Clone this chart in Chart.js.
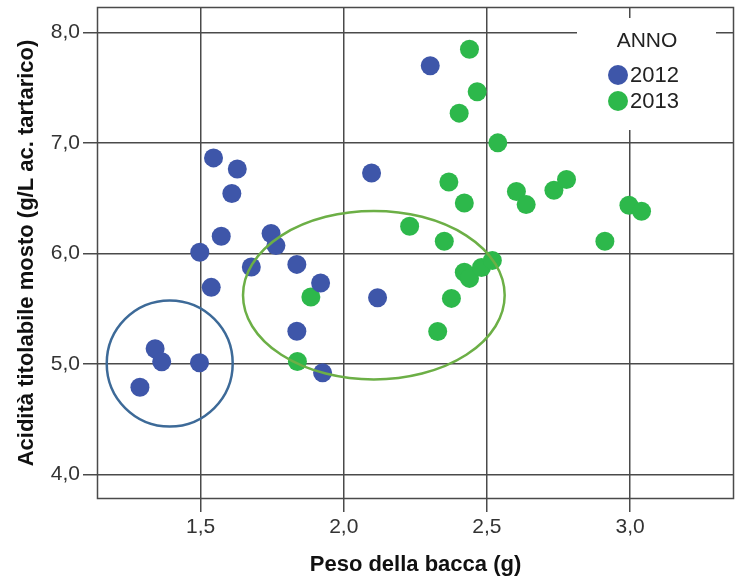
<!DOCTYPE html>
<html>
<head>
<meta charset="utf-8">
<script src="https://cdn.jsdelivr.net/npm/chart.js@4/dist/chart.umd.min.js"></script>
<style>
  html, body { margin: 0; padding: 0; background: #fff; }
  #wrap { width: 735px; height: 580px; }
</style>
</head>
<body>
<div id="wrap"><canvas id="c" width="735" height="580"></canvas></div>
<script>
// Anno di campionamento
const years = ['2012', '2013'];

// Peso della bacca (g) e acidità titolabile del mosto (g/L ac. tartarico)
const weight2012  = [1.545, 1.628, 1.609, 1.572, 1.746, 1.763, 1.497, 1.677, 1.836, 1.919,
                     1.537, 2.097, 2.118, 1.836, 1.926, 1.341, 1.364, 1.496, 1.288, 2.302];
const acidity2012 = [6.865, 6.765, 6.542, 6.155, 6.180, 6.071, 6.010, 5.877, 5.901, 5.732,
                     5.693, 6.729, 5.599, 5.296, 4.919, 5.137, 5.019, 5.010, 4.789, 7.699];

const weight2013  = [2.439, 2.466, 2.403, 2.538, 2.367, 2.421, 2.603, 2.637, 2.734, 2.778,
                     2.996, 3.040, 2.912, 2.230, 2.351, 2.421, 2.439, 2.481, 2.519, 2.376,
                     2.328, 1.885, 1.838];
const acidity2013 = [7.848, 7.463, 7.270, 7.001, 6.647, 6.457, 6.560, 6.442, 6.572, 6.669,
                     6.436, 6.382, 6.110, 6.246, 6.110, 5.829, 5.774, 5.873, 5.937, 5.593,
                     5.294, 5.605, 5.022];

// Tacche degli assi
const xTicks = [1.5, 2.0, 2.5, 3.0];
const yTicks = [4.0, 5.0, 6.0, 7.0, 8.0];

// Gruppi evidenziati (centro e semiassi in unità dei dati)
const blueGroup  = { cx: 1.392, cy: 5.004, rx: 0.220, ry: 0.571 };
const greenGroup = { cx: 2.105, cy: 5.622, rx: 0.457, ry: 0.763 };

const FONT = "'Liberation Sans', Arial, sans-serif";
const BLUE = '#3E56A9';
const GREEN = '#2DB84B';
const GRID = '#4a4a4a';

const toPoints = (xs, ys) => xs.map((x, i) => ({ x: x, y: ys[i] }));
const comma = v => Number(v).toFixed(1).replace('.', ',');

// Riquadro del grafico
const framePlugin = {
  id: 'frame',
  beforeDatasetsDraw(chart) {
    const { ctx, chartArea: a } = chart;
    ctx.save();
    ctx.strokeStyle = GRID;
    ctx.lineWidth = 1.5;
    ctx.strokeRect(a.left + 0.5, a.top + 0.5, a.right - a.left - 1, a.bottom - a.top - 1);
    ctx.restore();
  }
};

// Ellissi attorno ai gruppi
const groupsPlugin = {
  id: 'groups',
  afterDatasetsDraw(chart) {
    const { ctx, scales: { x, y } } = chart;
    const draw = (g, color) => {
      const cx = x.getPixelForValue(g.cx);
      const cy = y.getPixelForValue(g.cy);
      const rx = Math.abs(x.getPixelForValue(g.cx + g.rx) - cx);
      const ry = Math.abs(y.getPixelForValue(g.cy + g.ry) - cy);
      ctx.save();
      ctx.beginPath();
      ctx.ellipse(cx, cy, rx, ry, 0, 0, Math.PI * 2);
      ctx.strokeStyle = color;
      ctx.lineWidth = 2.5;
      ctx.stroke();
      ctx.restore();
    };
    draw(blueGroup, '#3D6A98');
    draw(greenGroup, '#6CAF46');
  }
};

// Legenda interna con titolo "ANNO"
const legendPlugin = {
  id: 'annoLegend',
  afterDraw(chart) {
    const { ctx } = chart;
    const colors = [BLUE, GREEN];
    ctx.save();
    ctx.fillStyle = '#fff';
    ctx.fillRect(577, 18, 139, 112);
    ctx.fillStyle = '#222';
    ctx.textAlign = 'center';
    ctx.textBaseline = 'middle';
    ctx.font = '21px ' + FONT;
    ctx.fillText('ANNO', 647, 41);
    ctx.font = '22px ' + FONT;
    ctx.textAlign = 'left';
    years.forEach((yr, i) => {
      const cy = 75 + i * 26;
      ctx.beginPath();
      ctx.arc(618, cy, 10, 0, Math.PI * 2);
      ctx.fillStyle = colors[i];
      ctx.fill();
      ctx.fillStyle = '#222';
      ctx.fillText(yr, 630, cy + 1);
    });
    ctx.restore();
  }
};

new Chart(document.getElementById('c'), {
  type: 'scatter',
  data: {
    datasets: [
      { label: years[0], data: toPoints(weight2012, acidity2012),
        backgroundColor: BLUE, borderWidth: 0, pointRadius: 9.5, pointHoverRadius: 9.5 },
      { label: years[1], data: toPoints(weight2013, acidity2013),
        backgroundColor: GREEN, borderWidth: 0, pointRadius: 9.5, pointHoverRadius: 9.5 }
    ]
  },
  options: {
    responsive: false,
    devicePixelRatio: 1,
    animation: false,
    layout: { autoPadding: false, padding: { top: 7, right: 1, left: 0, bottom: 0 } },
    plugins: {
      legend: { display: false },
      tooltip: { enabled: false }
    },
    scales: {
      x: {
        type: 'linear',
        min: 1.138,
        max: 3.363,
        afterBuildTicks: s => { s.ticks = xTicks.map(v => ({ value: v })); },
        afterFit: s => { s.height = 81; s.paddingLeft = 0; s.paddingRight = 0; },
        border: { display: false },
        grid: { color: GRID, lineWidth: 1.5, tickLength: 13, tickColor: GRID },
        ticks: {
          padding: 3,
          color: '#333',
          font: { family: FONT, size: 21 },
          callback: v => comma(v)
        },
        title: {
          display: true,
          text: 'Peso della bacca (g)',
          color: '#111',
          font: { family: FONT, size: 22, weight: 'bold' },
          padding: { top: 0, bottom: 2 }
        }
      },
      y: {
        type: 'linear',
        min: 3.777,
        max: 8.231,
        afterBuildTicks: s => { s.ticks = yTicks.map(v => ({ value: v })); },
        afterFit: s => { s.width = 97; s.paddingTop = 0; s.paddingBottom = 0; },
        border: { display: false },
        grid: { color: GRID, lineWidth: 1.5, tickLength: 14, tickColor: GRID },
        ticks: {
          padding: 3,
          color: '#333',
          font: { family: FONT, size: 21 },
          callback: v => comma(v)
        },
        title: {
          display: true,
          text: 'Acidità titolabile mosto (g/L ac. tartarico)',
          color: '#111',
          font: { family: FONT, size: 22, weight: 'bold' },
          padding: { top: 14, bottom: 0 }
        }
      }
    }
  },
  plugins: [framePlugin, groupsPlugin, legendPlugin]
});
</script>
</body>
</html>
